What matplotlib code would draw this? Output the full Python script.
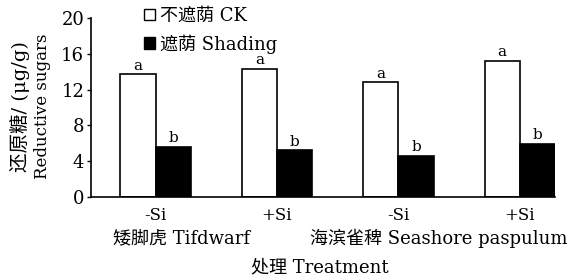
import matplotlib
matplotlib.use("Agg")
import matplotlib.pyplot as plt
import matplotlib.transforms as mtransforms
import numpy as np
from matplotlib.patches import Patch

plt.rcParams["font.family"] = ["DejaVu Serif", "Noto Sans CJK SC"]

treatments = ["-Si", "+Si", "-Si", "+Si"]
groups = ["矮脚虎 Tifdwarf", "海滨雀稗 Seashore paspulum"]
ck_values = [13.7, 14.3, 12.8, 15.2]
shading_values = [5.6, 5.2, 4.6, 5.9]
ck_letters = ["a", "a", "a", "a"]
shading_letters = ["b", "b", "b", "b"]

fig = plt.figure(figsize=(5.77, 2.76), dpi=100)
ax = fig.add_axes([0.158, 0.286, 0.804, 0.649])

x = np.arange(len(treatments))
w = 0.29
b1 = ax.bar(x - w / 2, ck_values, w, color="white", edgecolor="black", linewidth=1.2)
b2 = ax.bar(x + w / 2, shading_values, w, color="black", edgecolor="black", linewidth=1.2)

for bar, lab in zip(b1, ck_letters):
    ax.text(bar.get_x() + bar.get_width() / 2, bar.get_height() + 0.2, lab,
            ha="center", va="bottom", fontsize=11)
for bar, lab in zip(b2, shading_letters):
    ax.text(bar.get_x() + bar.get_width() / 2, bar.get_height() + 0.2, lab,
            ha="center", va="bottom", fontsize=11)

ax.set_ylim(0, 20)
ax.set_yticks([0, 4, 8, 12, 16, 20])
ax.set_xlim(-0.53, 3 + w)
ax.set_xticks(x)
ax.set_xticklabels(treatments)
ax.tick_params(axis="x", length=0, labelsize=12, pad=7)
ax.tick_params(axis="y", length=3, width=1, labelsize=13, pad=2)
for s in ["top", "right"]:
    ax.spines[s].set_visible(False)
for s in ["left", "bottom"]:
    ax.spines[s].set_linewidth(1.2)

# group names sit a little left of the pair centres, as in the original
trans = mtransforms.blended_transform_factory(ax.transData, fig.transFigure)
group_x = [0.21, 2.33]
for gx, g in zip(group_x, groups):
    ax.text(gx, 0.138, g, transform=trans, ha="center", va="center", fontsize=13)

fig.text(0.555, 0.03, "处理 Treatment", ha="center", va="center", fontsize=13)
fig.text(0.035, 0.615, "还原糖/ (μg/g)", rotation=90, ha="center", va="center", fontsize=14)
fig.text(0.073, 0.615, "Reductive sugars", rotation=90, ha="center", va="center", fontsize=12)

handles = [Patch(facecolor="white", edgecolor="black", label="不遮荫 CK"),
           Patch(facecolor="black", edgecolor="black", label="遮荫 Shading")]
fig.legend(handles=handles, loc="upper left", bbox_to_anchor=(0.228, 1.02),
           frameon=False, fontsize=13, handlelength=0.6, handleheight=0.6,
           handletextpad=0.3, labelspacing=0.5, borderpad=0.2)

fig.savefig("out.png", dpi=100)
